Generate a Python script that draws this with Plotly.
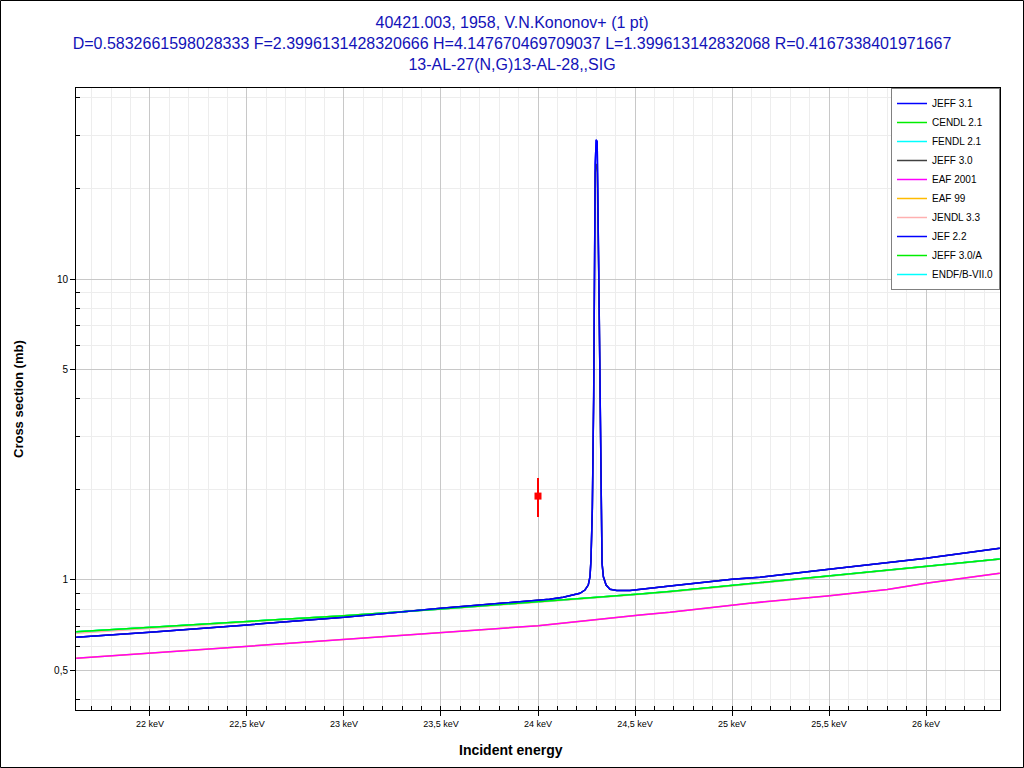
import plotly.graph_objects as go

# ---------------- data ----------------
# Resonant group (JEFF 3.1 / JEF 2.2 / JEFF 3.0), energies in keV, cross section in mb
e_res = [21.62, 22.0, 22.5, 23.0, 23.5, 23.96, 24.06, 24.13, 24.18, 24.216,
         24.242, 24.259, 24.268, 24.273, 24.280, 24.287, 24.292, 24.295, 24.300,
         24.305, 24.314, 24.320, 24.325, 24.330, 24.337, 24.351, 24.371, 24.406,
         24.474, 24.577, 24.68, 25.0, 25.144, 25.5, 26.0, 26.38]
sig_jeff31 = [0.645, 0.670, 0.709, 0.752, 0.805, 0.853, 0.863, 0.876, 0.892, 0.903,
              0.926, 0.962, 1.025, 1.165, 1.735, 4.12, 12.5, 24.3, 29.0,
              28.6, 9.43, 3.59, 1.52, 1.139, 1.025, 0.962, 0.931, 0.922,
              0.922, 0.936, 0.955, 1.005, 1.021, 1.085, 1.180, 1.274]
sig_jeff30 = [0.645, 0.670, 0.709, 0.752, 0.805, 0.853, 0.863, 0.876, 0.892, 0.903,
              0.926, 0.962, 1.025, 1.165, 1.70, 4.0, 12.0, 22.5, 24.1,
              23.8, 9.2, 3.5, 1.50, 1.139, 1.025, 0.962, 0.931, 0.922,
              0.922, 0.936, 0.955, 1.005, 1.021, 1.085, 1.180, 1.274]

# Smooth group (CENDL 2.1 / FENDL 2.1 / JEFF 3.0/A / ENDF/B-VII.0 / JENDL 3.3)
e_smooth = [21.62, 22.0, 22.5, 23.0, 23.5, 24.0, 24.526, 24.68, 25.09, 25.49, 25.98, 26.38]
sig_cendl = [0.673, 0.696, 0.727, 0.761, 0.801, 0.845, 0.899, 0.915, 0.970, 1.031, 1.107, 1.174]
sig_jendl = [0.665, 0.690, 0.723, 0.758, 0.799, 0.843, 0.897, 0.913, 0.968, 1.029, 1.105, 1.172]

# EAF group (EAF 2001 / EAF 99)
e_eaf = [21.62, 22.0, 22.5, 23.0, 23.5, 24.0, 24.526, 24.68, 25.09, 25.49, 25.8, 26.0, 26.38]
sig_eaf = [0.549, 0.571, 0.604, 0.633, 0.670, 0.705, 0.765, 0.781, 0.837, 0.885, 0.930, 0.975, 1.052]

# Experimental point (EXFOR 40421.003)
exp_e = [24.0]
exp_sig = [1.90]
exp_err = [0.28]

x_tickvals = [22, 22.5, 23, 23.5, 24, 24.5, 25, 25.5, 26]
x_ticktext = ["22 keV", "22,5 keV", "23 keV", "23,5 keV", "24 keV", "24,5 keV",
              "25 keV", "25,5 keV", "26 keV"]
y_tickvals = [0.5, 1, 5, 10]
y_ticktext = ["0,5", "1", "5", "10"]
y_minorvals = [0.4, 0.6, 0.7, 0.8, 0.9, 2, 3, 4, 6, 7, 8, 9, 20, 30, 40]

# legend order (rank) -> (name, x, y, color)
series = [
    ("JEFF 3.1", e_res, sig_jeff31, "#0000ff"),
    ("CENDL 2.1", e_smooth, sig_cendl, "#00ee00"),
    ("FENDL 2.1", e_smooth, sig_cendl, "#00ffff"),
    ("JEFF 3.0", e_res, sig_jeff30, "#404040"),
    ("EAF 2001", e_eaf, sig_eaf, "#ff00ff"),
    ("EAF 99", e_eaf, sig_eaf, "#ffbb00"),
    ("JENDL 3.3", e_smooth, sig_jendl, "#ffb0b0"),
    ("JEF 2.2", e_res, sig_jeff31, "#0000ff"),
    ("JEFF 3.0/A", e_smooth, sig_cendl, "#00ee00"),
    ("ENDF/B-VII.0", e_smooth, sig_cendl, "#00ffff"),
]

fig = go.Figure()
# draw in reverse so the first legend entry is on top
for rank in range(len(series) - 1, -1, -1):
    name, xs, ys, col = series[rank]
    fig.add_trace(go.Scatter(x=xs, y=ys, mode="lines", name=name,
                             line=dict(color=col, width=1.5),
                             legendrank=rank + 1))

fig.add_trace(go.Scatter(x=exp_e, y=exp_sig, mode="markers", showlegend=False,
                         marker=dict(symbol="square", size=7, color="#ff0000"),
                         error_y=dict(type="data", array=exp_err, color="#ff0000",
                                      thickness=2, width=0)))

W, H = 1024, 768
L, R, T, B = 76, 24, 88, 58
pw, ph = W - L - R, H - T - B

fig.update_layout(
    width=W, height=H,
    margin=dict(l=L, r=R, t=T, b=B),
    paper_bgcolor="white", plot_bgcolor="white",
    font=dict(family="Liberation Sans, Arial, sans-serif", color="black"),
    title=dict(
        text="40421.003, 1958, V.N.Kononov+ (1 pt)<br>"
             "D=0.5832661598028333 F=2.3996131428320666 H=4.147670469709037 "
             "L=1.399613142832068 R=0.4167338401971667<br>"
             "13-AL-27(N,G)13-AL-28,,SIG",
        x=0.5, xref="container", xanchor="center",
        y=1 - 28 / H, yanchor="middle",
        font=dict(size=16, color="#1212b8"),
    ),
    showlegend=True,
    legend=dict(x=1, y=1, xanchor="right", yanchor="top",
                bgcolor="white", bordercolor="#808080", borderwidth=1,
                font=dict(size=10), tracegroupgap=0, itemwidth=30),
    xaxis=dict(
        range=[21.619, 26.381], tickmode="array", tickvals=x_tickvals,
        ticktext=x_ticktext, tickfont=dict(size=9),
        ticks="outside", ticklen=5, tickcolor="black",
        showline=True, linecolor="black", linewidth=1, mirror=True,
        showgrid=True, gridcolor="#c8c8c8", gridwidth=1, zeroline=False,
        minor=dict(tick0=22, dtick=0.1, ticks="inside", ticklen=4,
                   tickcolor="black", showgrid=True, gridcolor="#ededed"),
    ),
    yaxis=dict(
        type="log", range=[-0.432, 1.6346], tickmode="array",
        tickvals=y_tickvals, ticktext=y_ticktext, tickfont=dict(size=10),
        ticks="outside", ticklen=5, tickcolor="black",
        showline=True, linecolor="black", linewidth=1, mirror=True,
        showgrid=True, gridcolor="#c8c8c8", gridwidth=1, zeroline=False,
        minor=dict(tickvals=y_minorvals, ticks="inside", ticklen=4,
                   tickcolor="black", showgrid=True, gridcolor="#ededed"),
    ),
    annotations=[
        dict(text="<b>Incident energy</b>", xref="paper", yref="paper",
             x=(511 - L) / pw, y=(H - B - 750) / ph, xanchor="center", yanchor="middle",
             showarrow=False, font=dict(size=14, color="black")),
        dict(text="<b>Cross section (mb)</b>", xref="paper", yref="paper",
             x=(18 - L) / pw, y=0.5, xanchor="center", yanchor="middle",
             textangle=-90, showarrow=False, font=dict(size=13, color="black")),
    ],
    shapes=[
        dict(type="rect", xref="paper", yref="paper",
             x0=(0.5 - L) / pw, x1=(W - 0.5 - L) / pw,
             y0=(H - B - (H - 0.5)) / ph, y1=(H - B - 0.5) / ph,
             line=dict(color="black", width=1), fillcolor="rgba(0,0,0,0)",
             layer="above"),
    ],
)

fig.write_html("out.html", config={"displayModeBar": False},
               post_script="document.body.style.margin='0';")
